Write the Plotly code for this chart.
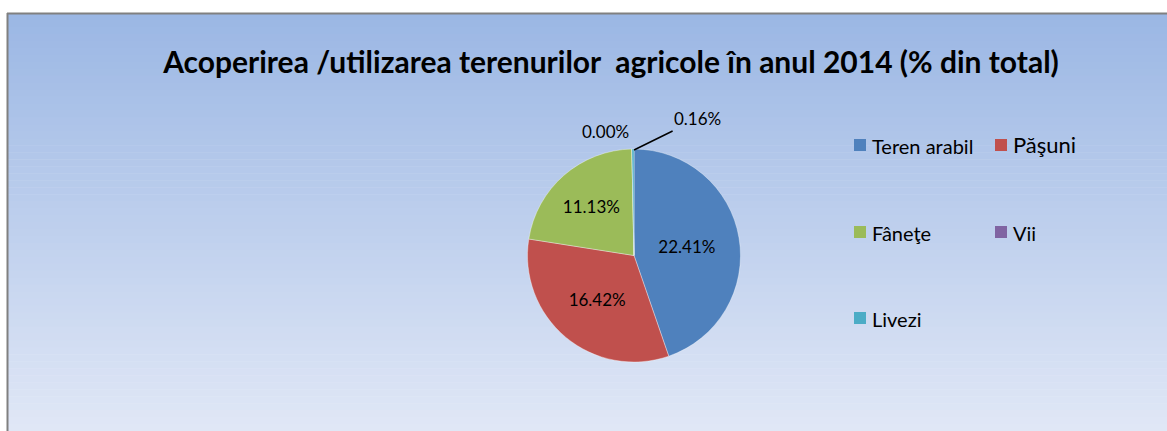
import plotly.graph_objects as go

# ---- data ----
categories = ["Teren arabil", "Păşuni", "Fâneţe", "Vii", "Livezi"]
values = [22.41, 16.42, 11.13, 0.00, 0.16]
colors = ["#4F81BD", "#C0504D", "#9BBB59", "#8064A2", "#4BACC6"]
title_text = "Acoperirea /utilizarea terenurilor&nbsp; agricole în anul 2014 (% din total)"

W, H = 1167, 431
def px(x):
    return x / W
def py(y):
    return 1 - y / H

labels_txt = [f"{v:.2f}%" for v in values]
inside_text = [t if v >= 1 else "" for t, v in zip(labels_txt, values)]

FONT = "Lato"

fig = go.Figure()
fig.add_trace(go.Pie(
    labels=categories,
    values=values,
    sort=False,
    direction="clockwise",
    rotation=0,
    marker=dict(colors=colors, line=dict(color="rgba(255,255,255,0.6)", width=0.6)),
    text=inside_text,
    textinfo="text",
    textposition="inside",
    insidetextorientation="horizontal",
    textfont=dict(family=FONT, size=17, color="black"),
    domain=dict(x=[px(527), px(741)], y=[py(362), py(149)]),
    showlegend=False,
    hoverinfo="label+value",
))

shapes = []
# gradient background of chart area
top, bottom = 13, H
n = 60
c0 = (155, 183, 228)
c1 = (224, 231, 246)
for i in range(n):
    t = i / (n - 1)
    c = tuple(round(a + (b - a) * t) for a, b in zip(c0, c1))
    y0 = top + (bottom - top) * i / n
    y1 = top + (bottom - top) * (i + 1) / n + 0.5
    shapes.append(dict(type="rect", xref="paper", yref="paper",
                       x0=px(8), x1=1.01, y0=py(min(y1, H)), y1=py(y0),
                       line=dict(width=0), fillcolor=f"rgb{c}", layer="below"))
# frame border (left and top)
shapes.append(dict(type="line", xref="paper", yref="paper", x0=px(7.5), x1=px(7.5),
                   y0=-0.01, y1=py(13), line=dict(color="#808080", width=2), layer="below"))
shapes.append(dict(type="line", xref="paper", yref="paper", x0=px(7), x1=1.01,
                   y0=py(13.5), y1=py(13.5), line=dict(color="#808080", width=2), layer="below"))

annotations = []
# outside labels for tiny slices
annotations.append(dict(xref="paper", yref="paper", x=px(605), y=py(131), text=labels_txt[3],
                        showarrow=False, xanchor="center", yanchor="middle",
                        font=dict(family=FONT, size=17, color="black")))
annotations.append(dict(xref="paper", yref="paper", x=px(634), y=py(150), text=labels_txt[4],
                        showarrow=True, arrowhead=0, arrowwidth=1.5, arrowcolor="black",
                        ax=63, ay=-31, xanchor="center", yanchor="middle",
                        font=dict(family=FONT, size=17, color="black"), standoff=0))
# manual legend: 2 columns, 3 rows
col_x = [854, 995]
row_y = [145, 232, 318]
for i, (name, col) in enumerate(zip(categories, colors)):
    cx = col_x[i % 2]
    cy = row_y[i // 2]
    shapes.append(dict(type="rect", xref="paper", yref="paper",
                       x0=px(cx), x1=px(cx + 12), y0=py(cy + 6), y1=py(cy - 6),
                       line=dict(width=0), fillcolor=col))
    big = (name == "Păşuni")
    annotations.append(dict(xref="paper", yref="paper", x=px(cx + 16), y=py(cy - (1 if big else -1)),
                            text=name, showarrow=False, xanchor="left", yanchor="middle",
                            font=dict(family=FONT, size=22 if big else 20, color="black")))

fig.update_layout(
    width=W, height=H,
    margin=dict(l=0, r=0, t=0, b=0),
    paper_bgcolor="white",
    plot_bgcolor="white",
    title=dict(text=title_text, x=px(611), y=py(62), xanchor="center", yanchor="middle",
               font=dict(family=FONT, size=30, color="black", weight="bold")),
    shapes=shapes,
    annotations=annotations,
)

fig.write_html("out.html",
               config={"displayModeBar": False},
               post_script="document.body.style.margin='0px';document.body.style.overflow='hidden';")
